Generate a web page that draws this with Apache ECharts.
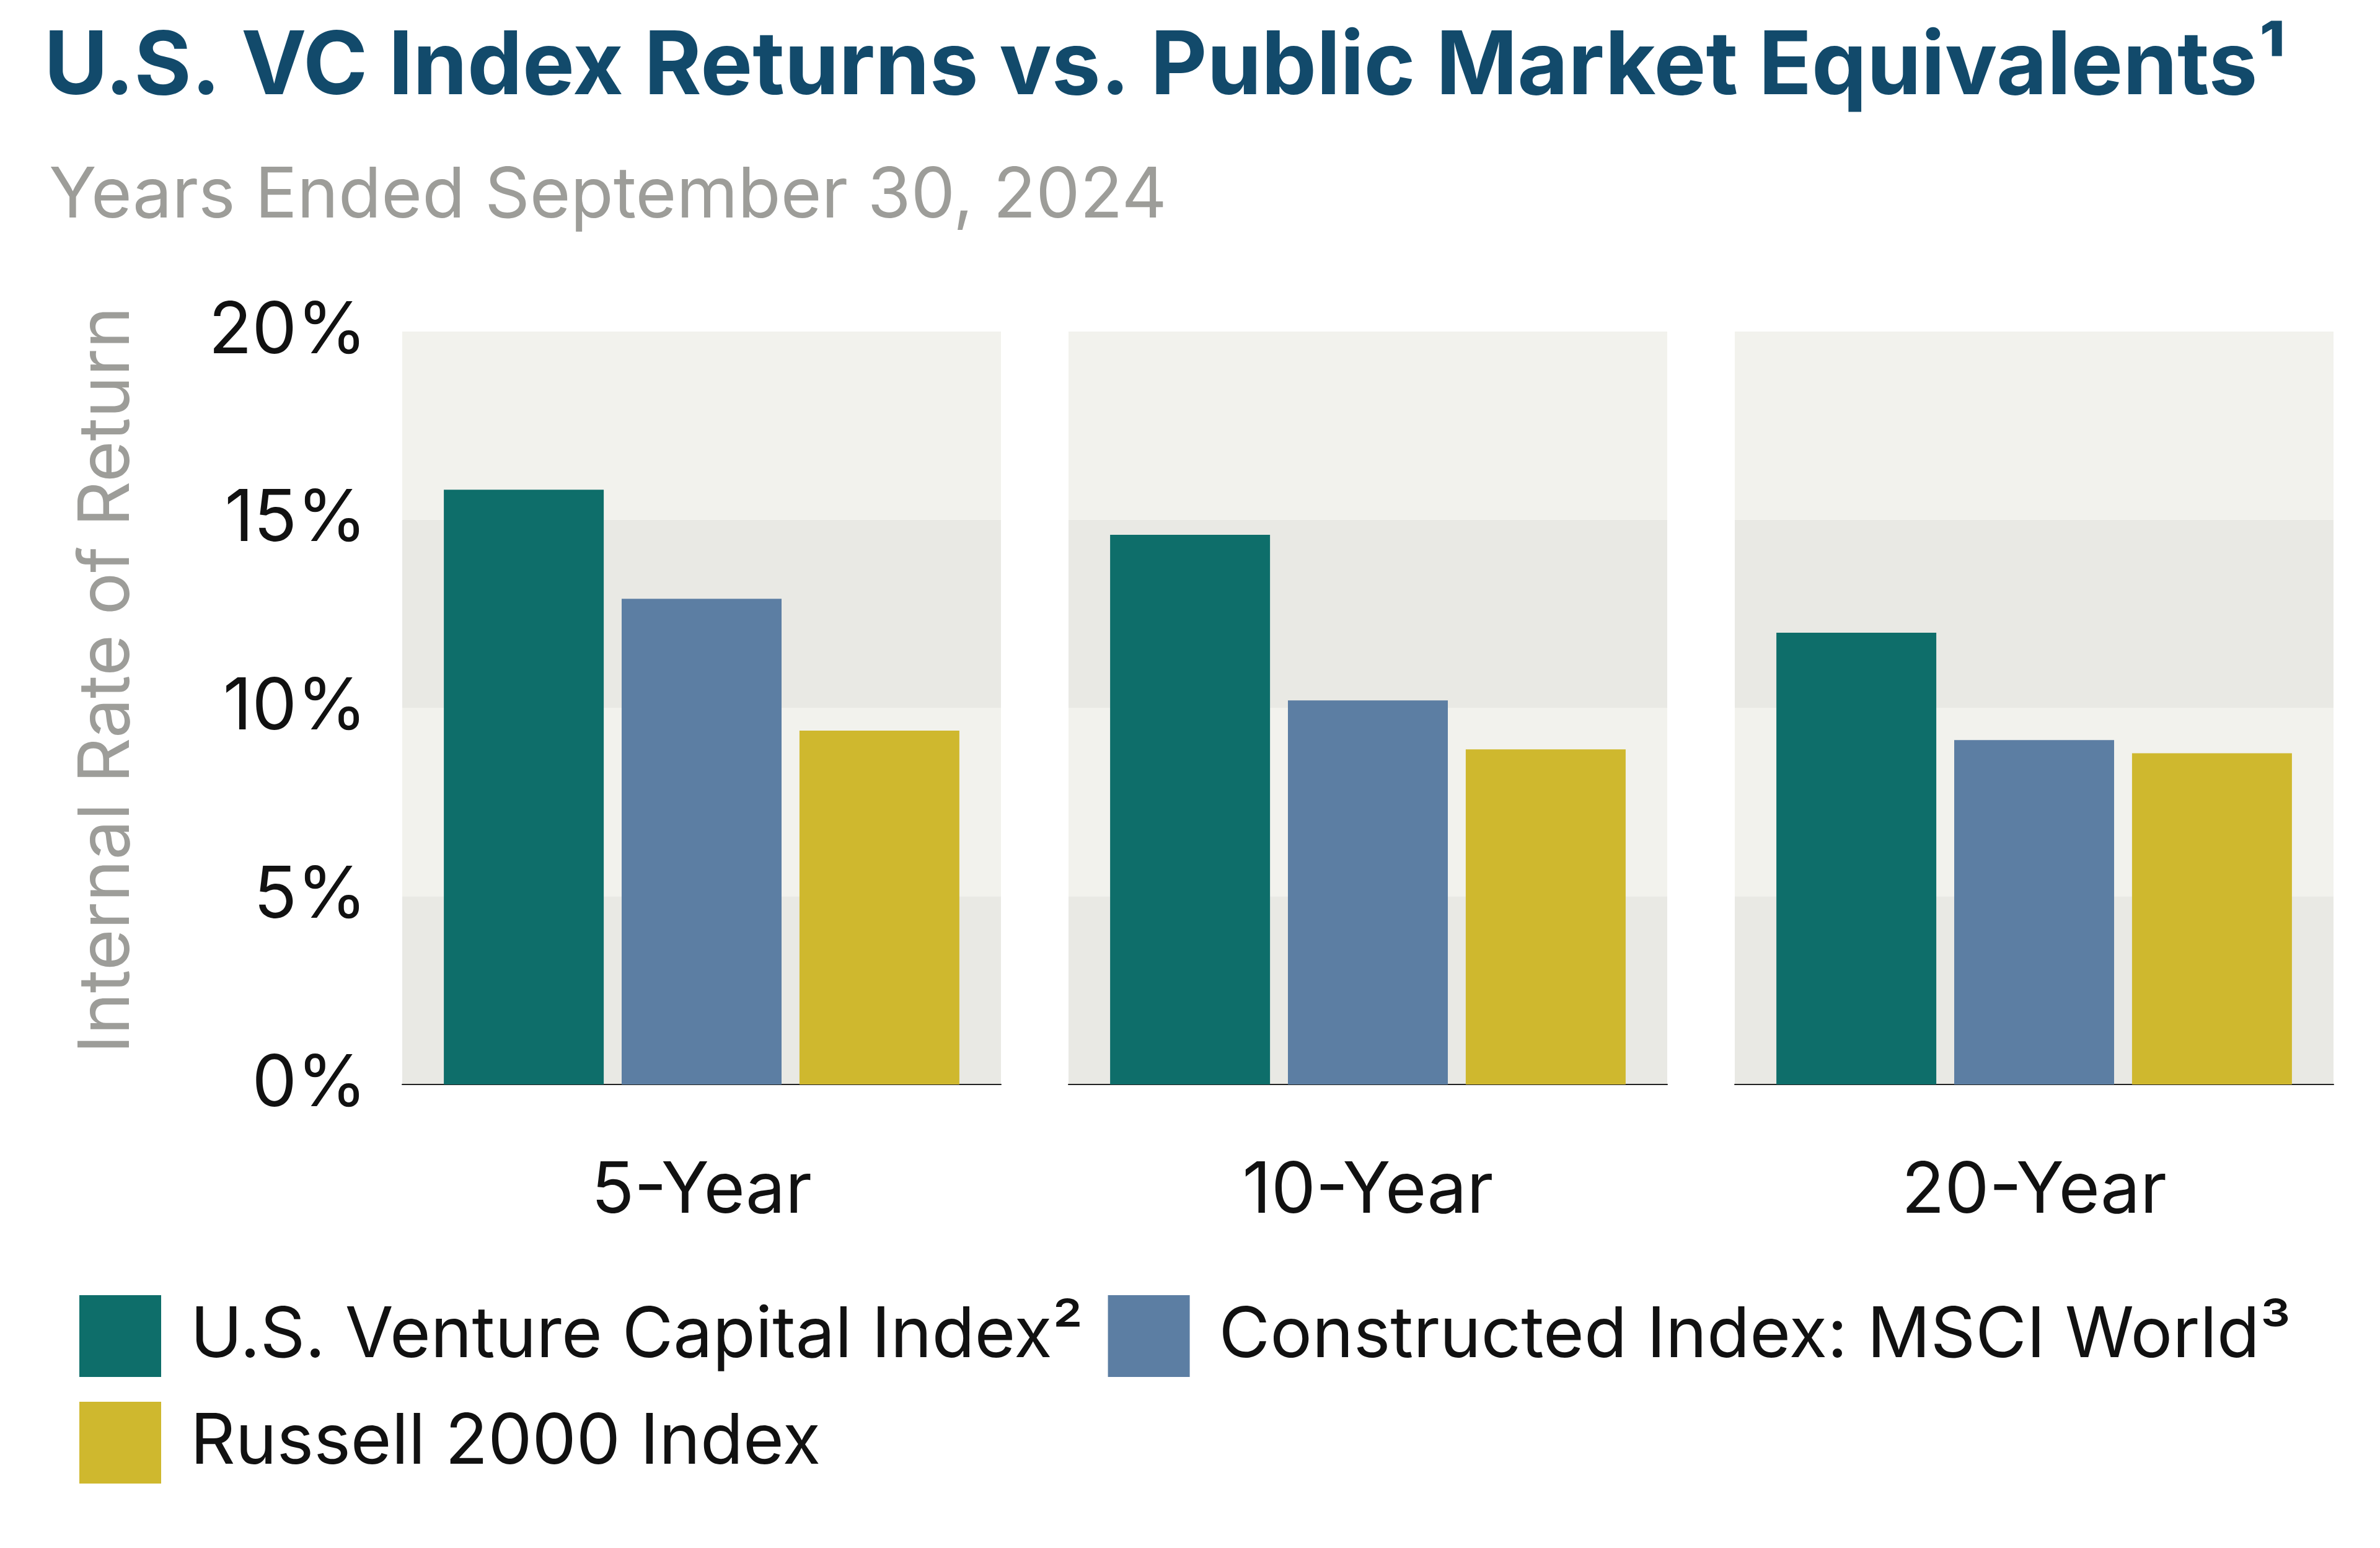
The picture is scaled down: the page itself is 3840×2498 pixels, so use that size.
<!DOCTYPE html>
<html>
<head>
<meta charset="utf-8">
<script src="https://cdn.jsdelivr.net/npm/echarts@6/dist/echarts.min.js"></script>
<style>
    html, body { margin: 0; padding: 0; background: #fff; }
    #chart { width: 3840px; height: 2498px; }
</style>
</head>
<body>
<div id="chart"></div>
<script>
    // data
    const periods = ['5-Year', '10-Year', '20-Year'];
    const seriesNames = ['U.S. Venture Capital Index²', 'Constructed Index: MSCI World³', 'Russell 2000 Index'];
    const vcIndex = [15.8, 14.6, 12.0];
    const msciWorld = [12.9, 10.2, 9.15];
    const russell2000 = [9.4, 8.9, 8.8];
    const yTicks = [0, 5, 10, 15, 20];

    const colors = ['#0e6e6a', '#5c7ea3', '#cfb82e'];
    const font = 'Inter';
    const values = [vcIndex, msciWorld, russell2000];

    let chart = echarts.init(document.getElementById('chart'));

    let grids = [], xAxes = [], yAxes = [], series = [];
    const gridLeft = [649, 1724, 2799];
    for (let i = 0; i < periods.length; i++) {
        grids.push({ left: gridLeft[i], top: 535, width: 966, height: 1215 });
        xAxes.push({
            type: 'category',
            gridIndex: i,
            data: [periods[i]],
            axisLine: { show: true, lineStyle: { color: '#222', width: 2 } },
            axisTick: { show: false },
            axisLabel: { fontFamily: font, fontSize: 114, color: '#111', margin: 116 }
        });
        yAxes.push({
            type: 'value',
            gridIndex: i,
            min: yTicks[0],
            max: yTicks[yTicks.length - 1],
            interval: 5,
            axisLine: { show: false },
            axisTick: { show: false },
            splitLine: { show: false },
            splitArea: { show: true, areaStyle: { color: ['#e9e9e4', '#f2f2ed'] } },
            axisLabel: {
                show: i === 0,
                formatter: '{value}%',
                fontFamily: font, fontSize: 115, color: '#111', margin: 57,
                padding: [18, 0, 0, 0]
            },
            name: i === 0 ? 'Internal Rate of Return' : '',
            nameLocation: 'middle',
            nameGap: 418,
            nameTextStyle: { fontFamily: font, fontSize: 114, color: '#9d9d99', padding: [0, 0, 0, 90] }
        });
        for (let s = 0; s < seriesNames.length; s++) {
            series.push({
                name: seriesNames[s],
                type: 'bar',
                xAxisIndex: i,
                yAxisIndex: i,
                data: [values[s][i]],
                barWidth: 258,
                barGap: '11.2%',
                itemStyle: { color: colors[s] },
                silent: true
            });
        }
    }

    chart.setOption({
        animation: false,
        title: [
            {
                text: 'U.S. VC Index Returns vs. Public Market Equivalents¹',
                left: 66, top: 34,
                textStyle: { fontFamily: font, fontSize: 141, fontWeight: 'bold', color: '#124a6b' }
            },
            {
                text: 'Years Ended September 30, 2024',
                left: 74, top: 256,
                textStyle: { fontFamily: font, fontSize: 113, fontWeight: 'normal', color: '#9d9d99' }
            }
        ],
        legend: {
            data: seriesNames,
            left: 123,
            top: 2085,
            width: 3620,
            icon: 'rect',
            itemWidth: 132,
            itemHeight: 132,
            itemGap: 40,
            textStyle: { fontFamily: font, fontSize: 113, color: '#111', padding: [0, 0, 0, 42] }
        },
        grid: grids,
        xAxis: xAxes,
        yAxis: yAxes,
        series: series
    });
</script>
</body>
</html>
